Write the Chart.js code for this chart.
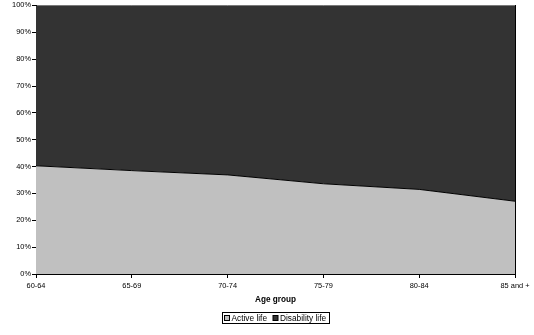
<!DOCTYPE html>
<html>
<head>
<meta charset="utf-8">
<script src="https://cdn.jsdelivr.net/npm/chart.js@4"></script>
<style>
  html, body { margin: 0; padding: 0; background: #fff; }
  #wrap { width: 534px; height: 335px; }
</style>
</head>
<body>
<div id="wrap"><canvas id="c" width="534" height="335"></canvas></div>
<script>
// Share of remaining life expectancy by age group (percent)
const ageGroups = ['60-64', '65-69', '70-74', '75-79', '80-84', '85 and +'];
const activeLife = [40.3, 38.5, 36.9, 33.6, 31.5, 27.1];
const disabilityLife = [59.7, 61.5, 63.1, 66.4, 68.5, 72.9];
const seriesNames = ['Active life', 'Disability life'];
const seriesColors = ['#c0c0c0', '#333333'];
const axisTitle = 'Age group';

const FONT = 'Arial, "Liberation Sans", Helvetica, sans-serif';

// Boxed legend centred under the plot area
const boxedLegend = {
  id: 'boxedLegend',
  afterDraw(chart) {
    const ctx = chart.ctx;
    const area = chart.chartArea;
    ctx.save();
    ctx.font = '8.3px ' + FONT;
    const sw = 5, gapSw = 2, gapItem = 6, padL = 2, padR = 3;
    const widths = chart.data.datasets.map(d => ctx.measureText(d.label).width);
    let total = padL + padR;
    widths.forEach((w, i) => { total += sw + gapSw + w + (i < widths.length - 1 ? gapItem : 0); });
    const cx = (area.left + area.right) / 2;
    const left = Math.round(cx - total / 2) + 0.5;
    const top = 312.5, h = 11;
    ctx.strokeStyle = '#000';
    ctx.lineWidth = 1;
    ctx.strokeRect(left, top, Math.round(total), h);
    let x = left + padL;
    const midY = top + h / 2;
    chart.data.datasets.forEach((d, i) => {
      ctx.fillStyle = d.backgroundColor;
      ctx.fillRect(x, midY - 2.5, sw, sw);
      ctx.strokeRect(x, midY - 2.5, sw, sw);
      x += sw + gapSw;
      ctx.fillStyle = '#000';
      ctx.textBaseline = 'middle';
      ctx.textAlign = 'left';
      ctx.fillText(d.label, x, midY + 0.5);
      x += widths[i] + gapItem;
    });
    ctx.restore();
  }
};

new Chart(document.getElementById('c'), {
  type: 'line',
  data: {
    labels: ageGroups,
    datasets: [
      {
        label: seriesNames[0],
        data: activeLife,
        fill: 'origin',
        backgroundColor: seriesColors[0],
        borderColor: '#000',
        borderWidth: 1,
        pointRadius: 0,
        tension: 0
      },
      {
        label: seriesNames[1],
        data: disabilityLife,
        fill: '-1',
        backgroundColor: seriesColors[1],
        borderColor: '#000',
        borderWidth: 1,
        pointRadius: 0,
        tension: 0
      }
    ]
  },
  options: {
    responsive: false,
    animation: false,
    devicePixelRatio: 1,
    layout: { padding: { top: 4, left: 0, right: 19, bottom: 29 } },
    plugins: {
      legend: { display: false },
      tooltip: { enabled: false },
      filler: { propagate: false }
    },
    scales: {
      x: {
        type: 'category',
        offset: false,
        grid: { drawOnChartArea: false, drawTicks: true, tickLength: 4, color: '#000' },
        border: { color: '#000', width: 1 },
        ticks: {
          color: '#000',
          font: { family: FONT, size: 7.4 },
          padding: 4,
          maxRotation: 0,
          autoSkip: false
        },
        title: {
          display: true,
          text: axisTitle,
          color: '#000',
          font: { family: FONT, size: 8.2, weight: 'bold' },
          padding: { top: 0, bottom: 1.5 }
        },
        afterFit(scale) { scale.height = 32; }
      },
      y: {
        stacked: true,
        min: 0,
        max: 100,
        grid: { drawOnChartArea: false, drawTicks: true, tickLength: 4, color: '#000' },
        border: { color: '#000', width: 1 },
        ticks: {
          stepSize: 10,
          color: '#000',
          font: { family: FONT, size: 7.4 },
          padding: 1,
          callback: v => v + '%'
        },
        afterFit(scale) { scale.width = 36; }
      },
      yRight: {
        position: 'right',
        min: 0,
        max: 100,
        grid: { drawOnChartArea: false, drawTicks: false },
        border: { color: '#000', width: 1 },
        ticks: { display: false },
        afterFit(scale) { scale.width = 0; }
      }
    }
  },
  plugins: [boxedLegend]
});
</script>
</body>
</html>
